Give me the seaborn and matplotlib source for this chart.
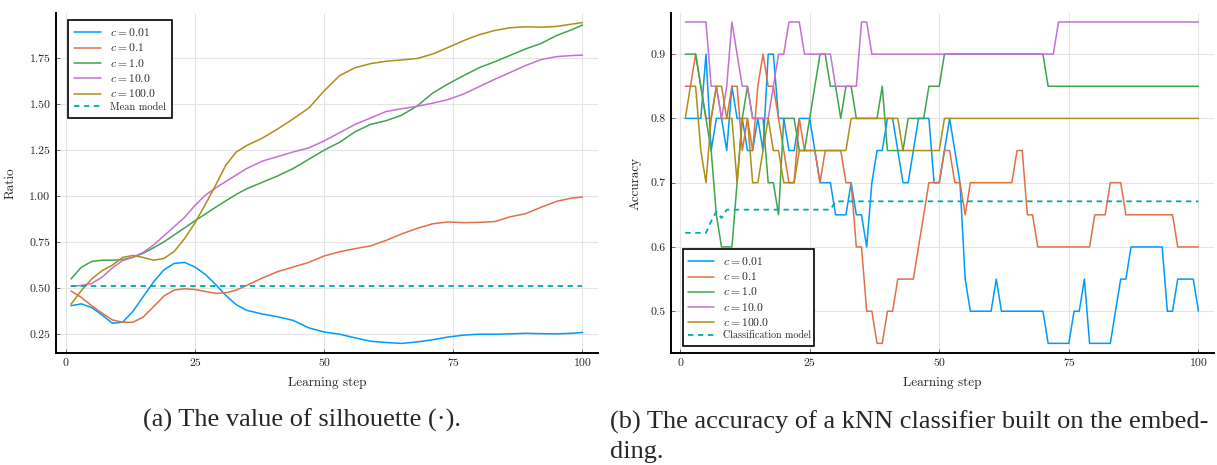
import numpy as np
import pandas as pd
import matplotlib
matplotlib.use("Agg")
import matplotlib.pyplot as plt
import seaborn as sns

# ---------------- data ----------------
series_labels = [r"$c = 0.01$", r"$c = 0.1$", r"$c = 1.0$", r"$c = 10.0$", r"$c = 100.0$"]
colors = ["#009AFA", "#E36F47", "#3EA44E", "#C371D2", "#AC8E18"]
ref_color = "#00AAAE"

# (a) silhouette ratio
sil_steps = [1, 3, 5, 7, 9, 11, 13, 15, 17, 19, 21, 23, 25, 27, 29, 31, 33, 35, 38, 41,
             44, 47, 50, 53, 56, 59, 62, 65, 68, 71, 74, 77, 80, 83, 86, 89, 92, 95, 98, 100]
sil_c001 = [0.405, 0.415, 0.395, 0.355, 0.31, 0.315, 0.375, 0.455, 0.535, 0.6, 0.635, 0.64, 0.615,
            0.575, 0.52, 0.46, 0.41, 0.38, 0.36, 0.345, 0.325, 0.285, 0.262, 0.25, 0.23, 0.212,
            0.205, 0.2, 0.208, 0.22, 0.235, 0.245, 0.25, 0.25, 0.252, 0.255, 0.253, 0.252, 0.255, 0.26]
sil_c01 = [0.485, 0.45, 0.405, 0.365, 0.328, 0.315, 0.315, 0.344, 0.4, 0.458, 0.49, 0.497, 0.493,
           0.482, 0.472, 0.475, 0.49, 0.515, 0.555, 0.59, 0.615, 0.64, 0.675, 0.698, 0.715, 0.73,
           0.76, 0.795, 0.825, 0.85, 0.86, 0.856, 0.858, 0.862, 0.888, 0.905, 0.94, 0.972, 0.99, 0.995]
sil_c1 = [0.55, 0.614, 0.645, 0.652, 0.652, 0.655, 0.668, 0.69, 0.72, 0.752, 0.79, 0.828, 0.866,
          0.903, 0.94, 0.975, 1.01, 1.04, 1.075, 1.11, 1.15, 1.2, 1.25, 1.293, 1.35, 1.39, 1.41,
          1.44, 1.49, 1.56, 1.61, 1.655, 1.698, 1.73, 1.765, 1.8, 1.83, 1.873, 1.905, 1.93]
sil_c10 = [0.51, 0.515, 0.525, 0.56, 0.61, 0.65, 0.668, 0.695, 0.735, 0.785, 0.835, 0.885, 0.95,
           1.005, 1.045, 1.08, 1.115, 1.15, 1.19, 1.215, 1.24, 1.262, 1.3, 1.345, 1.39, 1.425,
           1.46, 1.475, 1.488, 1.505, 1.525, 1.555, 1.595, 1.635, 1.672, 1.71, 1.742, 1.758, 1.764, 1.766]
sil_c100 = [0.413, 0.487, 0.55, 0.595, 0.625, 0.667, 0.678, 0.667, 0.652, 0.662, 0.7, 0.77, 0.855,
            0.955, 1.06, 1.17, 1.24, 1.275, 1.315, 1.365, 1.42, 1.478, 1.572, 1.655, 1.698, 1.72,
            1.733, 1.74, 1.748, 1.772, 1.808, 1.845, 1.877, 1.9, 1.915, 1.92, 1.918, 1.922, 1.935, 1.943]
mean_model_steps = [1, 100]
mean_model = [0.513, 0.513]

# (b) kNN accuracy, steps 1..100
acc_steps = list(range(1, 101))
acc_c001 = [0.8, 0.8, 0.8, 0.8, 0.9, 0.75, 0.8, 0.8, 0.75, 0.85,
            0.8, 0.8, 0.75, 0.75, 0.8, 0.75, 0.9, 0.9, 0.8, 0.8,
            0.75, 0.75, 0.8, 0.8, 0.8, 0.75, 0.7, 0.7, 0.7, 0.65,
            0.65, 0.65, 0.7, 0.65, 0.65, 0.6, 0.7, 0.75, 0.75, 0.8,
            0.8, 0.75, 0.7, 0.7, 0.75, 0.8, 0.8, 0.8, 0.7, 0.7,
            0.75, 0.8, 0.75, 0.7, 0.55, 0.5, 0.5, 0.5, 0.5, 0.5,
            0.55, 0.5, 0.5, 0.5, 0.5, 0.5, 0.5, 0.5, 0.5, 0.5,
            0.45, 0.45, 0.45, 0.45, 0.45, 0.5, 0.5, 0.55, 0.45, 0.45,
            0.45, 0.45, 0.45, 0.5, 0.55, 0.55, 0.6, 0.6, 0.6, 0.6,
            0.6, 0.6, 0.6, 0.5, 0.5, 0.55, 0.55, 0.55, 0.55, 0.5]
acc_c01 = [0.85, 0.85, 0.9, 0.85, 0.8, 0.8, 0.85, 0.8, 0.8, 0.85,
           0.85, 0.75, 0.8, 0.75, 0.85, 0.9, 0.85, 0.85, 0.8, 0.75,
           0.7, 0.7, 0.8, 0.75, 0.75, 0.75, 0.7, 0.75, 0.75, 0.75,
           0.75, 0.7, 0.7, 0.6, 0.6, 0.5, 0.5, 0.45, 0.45, 0.5,
           0.5, 0.55, 0.55, 0.55, 0.55, 0.6, 0.65, 0.7, 0.7, 0.7,
           0.75, 0.75, 0.7, 0.7, 0.65, 0.7, 0.7, 0.7, 0.7, 0.7,
           0.7, 0.7, 0.7, 0.7, 0.75, 0.75, 0.65, 0.65, 0.6, 0.6,
           0.6, 0.6, 0.6, 0.6, 0.6, 0.6, 0.6, 0.6, 0.6, 0.65,
           0.65, 0.65, 0.7, 0.7, 0.7, 0.65, 0.65, 0.65, 0.65, 0.65,
           0.65, 0.65, 0.65, 0.65, 0.65, 0.6, 0.6, 0.6, 0.6, 0.6]
acc_c1 = [0.9, 0.9, 0.9, 0.85, 0.8, 0.75, 0.65, 0.6, 0.6, 0.6,
          0.7, 0.8, 0.85, 0.8, 0.8, 0.8, 0.7, 0.7, 0.65, 0.8,
          0.8, 0.8, 0.75, 0.75, 0.8, 0.85, 0.9, 0.9, 0.85, 0.85,
          0.8, 0.85, 0.85, 0.8, 0.8, 0.8, 0.8, 0.8, 0.85, 0.75,
          0.75, 0.75, 0.75, 0.8, 0.8, 0.8, 0.8, 0.85, 0.85, 0.85,
          0.9, 0.9, 0.9, 0.9, 0.9, 0.9, 0.9, 0.9, 0.9, 0.9,
          0.9, 0.9, 0.9, 0.9, 0.9, 0.9, 0.9, 0.9, 0.9, 0.9,
          0.85, 0.85, 0.85, 0.85, 0.85, 0.85, 0.85, 0.85, 0.85, 0.85,
          0.85, 0.85, 0.85, 0.85, 0.85, 0.85, 0.85, 0.85, 0.85, 0.85,
          0.85, 0.85, 0.85, 0.85, 0.85, 0.85, 0.85, 0.85, 0.85, 0.85]
acc_c10 = [0.95, 0.95, 0.95, 0.95, 0.95, 0.85, 0.85, 0.8, 0.85, 0.95,
           0.9, 0.85, 0.85, 0.8, 0.8, 0.8, 0.8, 0.85, 0.9, 0.9,
           0.95, 0.95, 0.95, 0.9, 0.9, 0.9, 0.9, 0.9, 0.9, 0.85,
           0.85, 0.85, 0.85, 0.85, 0.95, 0.95, 0.9, 0.9, 0.9, 0.9,
           0.9, 0.9, 0.9, 0.9, 0.9, 0.9, 0.9, 0.9, 0.9, 0.9,
           0.9, 0.9, 0.9, 0.9, 0.9, 0.9, 0.9, 0.9, 0.9, 0.9,
           0.9, 0.9, 0.9, 0.9, 0.9, 0.9, 0.9, 0.9, 0.9, 0.9,
           0.9, 0.9, 0.95, 0.95, 0.95, 0.95, 0.95, 0.95, 0.95, 0.95,
           0.95, 0.95, 0.95, 0.95, 0.95, 0.95, 0.95, 0.95, 0.95, 0.95,
           0.95, 0.95, 0.95, 0.95, 0.95, 0.95, 0.95, 0.95, 0.95, 0.95]
acc_c100 = [0.8, 0.85, 0.85, 0.75, 0.7, 0.8, 0.85, 0.85, 0.8, 0.8,
            0.7, 0.8, 0.8, 0.7, 0.7, 0.75, 0.8, 0.75, 0.75, 0.7,
            0.7, 0.7, 0.75, 0.75, 0.75, 0.75, 0.75, 0.75, 0.75, 0.75,
            0.75, 0.75, 0.8, 0.8, 0.8, 0.8, 0.8, 0.8, 0.8, 0.8,
            0.8, 0.8, 0.75, 0.75, 0.75, 0.75, 0.75, 0.75, 0.75, 0.75,
            0.8, 0.8, 0.8, 0.8, 0.8, 0.8, 0.8, 0.8, 0.8, 0.8,
            0.8, 0.8, 0.8, 0.8, 0.8, 0.8, 0.8, 0.8, 0.8, 0.8,
            0.8, 0.8, 0.8, 0.8, 0.8, 0.8, 0.8, 0.8, 0.8, 0.8,
            0.8, 0.8, 0.8, 0.8, 0.8, 0.8, 0.8, 0.8, 0.8, 0.8,
            0.8, 0.8, 0.8, 0.8, 0.8, 0.8, 0.8, 0.8, 0.8, 0.8]
class_model_steps = [1, 2, 3, 4, 5, 6, 7, 8, 9, 29, 30, 100]
class_model = [0.622, 0.622, 0.622, 0.622, 0.622, 0.64, 0.655, 0.645, 0.658, 0.658, 0.671, 0.671]

x_ticks = [0, 25, 50, 75, 100]
sil_yticks = [0.25, 0.50, 0.75, 1.00, 1.25, 1.50, 1.75]
acc_yticks = [0.5, 0.6, 0.7, 0.8, 0.9]

# ---------------- style ----------------
sns.set_style("white")
plt.rcParams["font.family"] = ["cmr10", "DejaVu Serif"]
plt.rcParams["mathtext.fontset"] = "cm"
plt.rcParams["axes.unicode_minus"] = False
plt.rcParams["axes.formatter.use_mathtext"] = True

fig = plt.figure(figsize=(12.17, 4.65), dpi=100)
ax1 = fig.add_axes([56 / 1217, 1 - 353 / 465, 542 / 1217, 340 / 465])
ax2 = fig.add_axes([671 / 1217, 1 - 353 / 465, 543 / 1217, 340 / 465])

LW = 1.1


def style_axes(ax, yticks, fmt):
    ax.set_xticks(x_ticks)
    ax.set_xticklabels([str(t) for t in x_ticks])
    ax.set_yticks(yticks)
    ax.set_yticklabels([fmt.format(t) for t in yticks])
    ax.grid(True, color="#e4e4e4", linewidth=0.8)
    ax.set_axisbelow(True)
    for s in ["top", "right"]:
        ax.spines[s].set_visible(False)
    for s in ["left", "bottom"]:
        ax.spines[s].set_color("black")
        ax.spines[s].set_linewidth(1.4)
    ax.tick_params(axis="both", direction="in", length=3, width=0.6, color="#555555",
                   labelsize=8.5, pad=4, left=True, bottom=True)
    ax.set_xlabel("Learning step", fontsize=9.5, labelpad=6)


def style_legend(leg, plain_size):
    leg.get_frame().set_linewidth(1.2)
    leg.get_frame().set_alpha(1)
    for t in leg.get_texts():
        if t.get_text().startswith("$"):
            t.set_fontsize(8.4)
        else:
            t.set_fontsize(plain_size)


# ---- (a) ----
sil_data = [sil_c001, sil_c01, sil_c1, sil_c10, sil_c100]
for vals, lab, col in zip(sil_data, series_labels, colors):
    sns.lineplot(x=sil_steps, y=vals, ax=ax1, color=col, linewidth=LW, label=lab)
sns.lineplot(x=mean_model_steps, y=mean_model, ax=ax1, color=ref_color, linewidth=1.3,
             linestyle=(0, (3, 2.5)), label="Mean model")
ax1.set_xlim(-1.9, 103)
ax1.set_ylim(0.148, 1.995)
style_axes(ax1, sil_yticks, "{:.2f}")
ax1.set_ylabel("Ratio", fontsize=9.5, labelpad=9)
leg1 = ax1.legend(loc="upper left", bbox_to_anchor=(0.022, 0.979), borderaxespad=0,
                  fontsize=7.5, frameon=True, fancybox=False, edgecolor="black",
                  handlelength=2.6, handletextpad=0.9, labelspacing=0.32, borderpad=0.55)
style_legend(leg1, 7.5)

# ---- (b) ----
acc_data = [acc_c001, acc_c01, acc_c1, acc_c10, acc_c100]
for vals, lab, col in zip(acc_data, series_labels, colors):
    sns.lineplot(x=acc_steps, y=vals, ax=ax2, color=col, linewidth=LW, label=lab)
sns.lineplot(x=class_model_steps, y=class_model, ax=ax2, color=ref_color, linewidth=1.3,
             linestyle=(0, (3, 2.5)), label="Classification model")
ax2.set_xlim(-1.75, 103)
ax2.set_ylim(0.435, 0.964)
style_axes(ax2, acc_yticks, "{:.1f}")
ax2.set_ylabel("Accuracy", fontsize=9.5, labelpad=6)
leg2 = ax2.legend(loc="lower left", bbox_to_anchor=(0.022, 0.0206, 0.241, 0.282), mode="expand",
                  borderaxespad=0, fontsize=7.2, frameon=True, fancybox=False, edgecolor="black",
                  handlelength=2.6, handletextpad=0.9, labelspacing=0.32, borderpad=0.55)
style_legend(leg2, 7.2)

# ---- captions ----
cap_font = ["Liberation Serif", "DejaVu Serif"]
fig.text(302 / 1217, 1 - 420 / 465, "(a) The value of silhouette (·).", ha="center", va="center",
         fontsize=19, family=cap_font)
fig.text(610 / 1217, 1 - 437 / 465, "(b) The accuracy of a kNN classifier built on the embed-\nding.",
         ha="left", va="center", fontsize=19, linespacing=1.42, family=cap_font)

fig.savefig("out.png", dpi=100)
